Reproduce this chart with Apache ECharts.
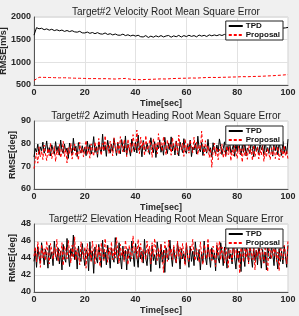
<!DOCTYPE html>
<html>
<head>
<meta charset="utf-8">
<script src="https://cdn.jsdelivr.net/npm/echarts@6/dist/echarts.min.js"></script>
<style>
  html, body { margin: 0; padding: 0; background: #f0f0f0; }
  #chart { width: 299px; height: 316px; }
</style>
</head>
<body>
<div id="chart"></div>
<script>
// velocity RMSE, one sample per second (TPD) / every 2 s (Proposal)
var velTPD = [
  1600,1765,1740,1752,1720,1738,1710,1730,1700,1718,
  1695,1712,1682,1702,1678,1698,1672,1665,1684,1650,
  1648,1668,1640,1658,1632,1655,1628,1622,1648,1615,
  1632,1605,1625,1600,1598,1622,1590,1608,1582,1600,
  1578,1598,1565,1560,1590,1548,1578,1555,1585,1562,
  1590,1560,1582,1592,1555,1584,1565,1595,1558,1590,
  1568,1598,1572,1590,1562,1602,1578,1596,1570,1606,
  1585,1604,1588,1610,1592,1616,1596,1615,1598,1620,
  1690,1700,1705,1710,1715,1712,1720,1725,1722,1730,
  1735,1730,1738,1740,1745,1742,1748,1750,1755,1760,
  1770
];
var velProp = [
  600,670,668,665,662,658,660,655,650,648,
  645,640,642,638,640,636,632,640,645,628,
  620,618,622,625,630,635,632,640,645,648,
  650,655,652,660,665,668,665,670,672,676,
  678,685,682,688,690,694,700,705,712,720,
  730
];
// azimuth / elevation RMSE, one sample every 0.5 s
var azTPD = [
  74.1,77.9,76.3,79.8,75.2,78.6,76.9,80.7,75.8,77.4,
  81.2,76.0,78.3,74.6,79.5,77.1,75.3,80.9,76.6,78.8,
  74.9,81.6,77.2,75.7,79.9,76.4,78.1,73.5,80.3,77.6,
  75.1,82.4,76.8,78.9,74.3,80.5,77.3,75.9,79.1,76.2,
  78.4,74.7,81.1,76.5,79.6,75.4,77.8,83.1,76.1,78.7,
  74.0,80.8,77.5,75.6,84.2,76.9,79.3,74.4,81.5,77.9,
  75.8,79.7,76.7,82.3,78.2,74.8,80.4,77.0,75.5,81.8,
  78.6,76.3,83.4,75.1,79.8,77.7,74.5,82.0,78.9,76.4,
  80.6,75.9,83.8,77.2,79.1,74.2,81.4,78.0,76.6,80.2,
  77.4,75.3,82.6,78.8,76.0,80.9,73.9,79.5,77.8,81.7,
  76.2,79.2,74.9,82.8,78.1,75.6,80.3,77.3,83.0,76.8,
  79.7,75.0,81.2,77.6,74.6,80.7,78.4,76.1,82.2,77.0,
  75.7,79.9,76.9,81.6,74.3,78.5,77.2,80.1,75.4,83.3,
  77.9,76.4,80.6,74.8,79.0,77.5,75.8,81.9,76.6,78.2,
  74.1,80.4,77.1,75.5,79.4,76.3,82.1,78.7,75.2,77.8,
  80.8,74.7,78.9,76.8,81.5,75.9,77.4,79.6,74.4,80.0,
  76.5,82.7,77.7,75.0,79.3,76.2,80.9,74.6,78.1,77.0,
  75.6,81.3,77.9,74.2,79.8,76.7,78.6,75.3,80.5,77.2,
  79.1,74.9,81.8,76.4,78.3,75.7,80.2,77.6,74.5,82.3,
  76.9,79.5,75.1,80.7,77.3,74.8,81.0,76.0,78.8,75.4,
  82.0
];
var azProp = [
  69.0,72.8,75.9,71.4,78.6,74.2,76.8,73.0,79.4,75.5,
  72.6,77.9,74.7,80.3,73.4,76.1,78.8,72.1,77.3,75.0,
  79.6,73.8,76.5,81.0,74.4,77.7,71.5,78.2,75.3,80.1,
  73.2,77.0,79.8,74.9,76.3,72.7,80.6,75.8,78.1,74.1,
  77.6,81.4,75.1,78.5,73.6,79.9,76.7,74.5,80.8,77.2,
  75.4,82.3,78.0,74.8,80.2,76.9,83.5,77.5,79.3,75.7,
  81.1,77.8,74.6,82.6,78.4,76.0,80.7,75.2,83.1,79.0,
  76.4,81.8,78.7,74.3,82.0,77.1,80.4,75.9,84.0,79.5,
  77.3,86.0,79.2,75.6,82.9,78.1,80.9,74.7,83.6,78.8,
  76.2,81.5,79.7,74.0,82.4,77.6,80.0,75.5,84.4,78.3,
  80.5,76.6,83.2,78.9,75.0,81.7,77.9,79.6,74.9,82.7,
  78.6,76.8,81.2,75.3,83.8,79.1,77.4,80.3,74.4,82.1,
  77.0,79.9,75.8,81.6,78.2,76.1,82.8,77.7,80.6,75.1,
  79.4,77.2,85.5,78.0,74.8,81.3,76.5,79.1,73.9,77.8,
  69.6,76.7,80.2,74.5,78.3,72.9,77.5,75.6,79.8,73.7,
  76.9,74.2,80.0,75.1,78.6,72.4,77.3,74.6,79.1,76.0,
  73.5,78.9,75.4,77.7,71.8,79.6,74.8,76.8,73.1,80.4,
  75.7,77.4,72.6,79.3,74.3,76.4,78.5,73.3,77.0,75.0,
  79.7,72.2,76.6,74.0,78.1,75.3,73.0,77.9,74.7,80.1,
  73.4,76.2,78.7,72.8,75.8,77.6,73.9,79.2,74.5,76.9,
  73.0
];
var elTPD = [
  43.6,44.9,42.9,45.3,44.1,43.4,45.8,44.6,43.2,45.0,
  44.3,42.8,45.5,43.9,44.7,43.1,46.0,44.4,43.7,45.2,
  43.3,44.8,42.6,45.6,44.0,43.5,46.3,44.5,43.0,45.1,
  44.2,46.7,43.8,44.9,42.7,45.4,44.1,43.6,45.7,44.3,
  43.1,45.0,44.6,42.5,45.9,43.7,44.8,42.2,45.3,44.0,
  43.4,45.6,44.2,42.9,46.1,43.9,44.7,43.2,45.5,44.4,
  42.8,45.2,44.0,43.5,46.4,44.6,43.3,45.8,44.1,42.7,
  45.4,43.8,44.9,42.6,45.1,44.3,43.6,46.0,44.5,43.0,
  45.7,44.2,42.9,45.3,43.9,44.8,43.4,46.2,44.0,43.1,
  45.0,44.6,42.4,45.5,43.7,44.4,43.2,45.9,44.7,42.8,
  45.6,43.5,44.9,42.3,45.2,44.1,43.8,46.1,44.3,43.0,
  45.3,44.0,43.4,45.8,44.6,42.7,45.1,43.9,44.5,43.3,
  45.7,44.2,42.9,45.4,43.6,44.8,43.1,45.9,44.4,43.7,
  45.0,42.6,44.7,43.5,46.0,44.1,43.2,45.6,44.3,42.9,
  45.2,43.8,44.6,42.5,45.5,44.0,43.4,45.8,44.7,43.1,
  45.3,44.2,42.8,45.7,43.9,44.5,43.3,46.2,44.0,42.7,
  45.1,43.6,44.8,42.4,45.6,44.3,43.0,45.4,44.6,43.5,
  45.9,44.1,42.9,45.2,43.7,44.9,43.2,45.5,44.4,42.8,
  45.0,43.4,44.7,42.6,45.8,44.2,43.9,45.3,44.5,43.1,
  45.6,44.0,42.7,45.1,43.6,44.8,43.3,45.4,44.2,42.9,
  45.5
];
var elProp = [
  44.2,45.3,43.5,45.9,44.8,42.9,45.6,44.0,45.1,43.7,
  46.0,44.5,43.3,45.7,44.9,43.8,45.2,44.1,46.2,43.6,
  45.0,44.3,45.8,43.1,45.4,44.7,43.9,46.1,44.6,43.4,
  45.5,44.0,46.5,43.7,45.1,44.4,43.2,45.9,44.8,43.9,
  45.3,42.8,45.7,44.2,45.0,43.6,46.0,44.5,43.3,45.6,
  44.1,45.4,43.0,45.8,44.6,43.7,46.3,44.9,43.5,45.2,
  44.3,45.9,43.8,45.1,44.0,46.4,44.7,43.4,45.6,44.2,
  45.0,43.6,46.1,44.8,43.2,45.5,44.4,43.9,46.6,44.6,
  45.3,43.9,46.2,44.1,45.7,43.5,45.0,44.7,43.8,46.0,
  44.5,45.4,43.3,45.8,44.2,46.3,44.9,43.7,45.2,44.0,
  45.6,44.4,42.3,45.9,44.8,43.6,46.1,44.3,45.1,43.8,
  45.5,44.6,43.4,46.0,44.2,45.3,43.9,45.7,44.5,43.1,
  45.8,44.0,43.6,45.4,44.9,46.2,44.3,43.7,45.1,44.6,
  43.5,45.9,44.4,43.2,45.6,44.8,43.9,46.3,44.1,45.0,
  43.7,45.4,44.5,43.0,45.8,44.2,46.0,43.8,45.3,44.6,
  43.4,45.7,44.1,42.9,46.5,44.7,43.6,45.2,44.3,45.9,
  43.9,44.8,42.2,45.5,44.4,43.5,46.1,44.0,45.0,43.3,
  45.6,44.6,43.8,45.3,42.6,44.9,44.2,45.8,43.7,45.1,
  44.5,43.4,45.7,44.1,42.4,45.2,44.8,43.9,46.0,44.3,
  45.4,43.6,44.7,42.5,45.9,44.2,43.8,45.5,44.6,43.3,
  46.1
];

var titles = [
  "Target#2 Velocity Root Mean Square Error",
  "Target#2 Azimuth Heading Root Mean Square Error",
  "Target#2 Elevation Heading Root Mean Square Error"
];
var yNames = ["RMSE[m/s]", "RMSE[deg]", "RMSE[deg]"];
var yRanges = [[500, 2000, 500], [60, 90, 10], [40, 48, 2]];

var gridTops = [17, 121, 224];
var gridH = 68;
var FONT = "Liberation Sans, Arial, sans-serif";

// pair each value with its time stamp
function withTime(arr, step) {
  return arr.map(function (v, i) { return [i * step, v]; });
}

var chart = echarts.init(document.getElementById("chart"));

var option = {
  backgroundColor: "#f0f0f0",
  animation: false,
  title: [],
  legend: [],
  grid: [],
  xAxis: [],
  yAxis: [],
  series: []
};

gridTops.forEach(function (top, k) {
  option.title.push({
    text: titles[k],
    left: 161,
    textAlign: "center",
    top: top - 15,
    textStyle: { fontFamily: FONT, fontSize: 10, fontWeight: "normal", color: "#222" }
  });
  option.grid.push({
    left: 34, right: 11, top: top, height: gridH,
    outerBoundsMode: "none", containLabel: false,
    show: true, backgroundColor: "#fff", borderColor: "#d0d0d0", borderWidth: 1
  });
  option.xAxis.push({
    type: "value", gridIndex: k, min: 0, max: 100, interval: 20,
    name: "Time[sec]", nameLocation: "middle", nameGap: 14,
    nameTextStyle: { fontFamily: FONT, fontSize: 9, fontWeight: "bold", color: "#262626" },
    axisLine: { lineStyle: { color: "#555" } },
    axisTick: { show: false },
    axisLabel: { fontFamily: FONT, fontSize: 9, fontWeight: "bold", color: "#262626", margin: 3 },
    splitLine: { lineStyle: { color: "#e2e2e2" } }
  });
  option.yAxis.push({
    type: "value", gridIndex: k,
    min: yRanges[k][0], max: yRanges[k][1], interval: yRanges[k][2],
    name: yNames[k], nameLocation: "middle", nameGap: k === 0 ? 26 : 17,
    nameMoveOverlap: false,
    nameTextStyle: { fontFamily: FONT, fontSize: 9, fontWeight: "bold", color: "#262626" },
    axisLine: { show: true, lineStyle: { color: "#555" } },
    axisTick: { show: false },
    axisLabel: {
      fontFamily: FONT, fontSize: 9, fontWeight: "bold", color: "#262626", margin: 3,
      formatter: function (v) { return String(v); }
    },
    splitLine: { lineStyle: { color: "#e2e2e2" } }
  });
  option.legend.push({
    orient: "vertical",
    right: 16, top: top + (k === 0 ? 4 : 5),
    backgroundColor: "#fff",
    borderColor: "#222", borderWidth: 1,
    padding: [1, 3, 1, 2],
    itemGap: 1, itemWidth: 14, itemHeight: 8,
    itemStyle: { opacity: 0 },
    textStyle: { fontFamily: FONT, fontSize: 8, fontWeight: "bold", color: "#111", padding: [0, 0, 0, -2] },
    data: ["TPD", "Proposal"]
  });
});

var tpdSets = [withTime(velTPD, 1), withTime(azTPD, 0.5), withTime(elTPD, 0.5)];
var propSets = [withTime(velProp, 2), withTime(azProp, 0.5), withTime(elProp, 0.5)];

for (var k = 0; k < 3; k++) {
  option.series.push({
    name: "TPD", type: "line", xAxisIndex: k, yAxisIndex: k,
    data: tpdSets[k], showSymbol: false, symbol: "none",
    lineStyle: { color: "#000", width: 1 }, itemStyle: { color: "#000" }
  });
  option.series.push({
    name: "Proposal", type: "line", xAxisIndex: k, yAxisIndex: k,
    data: propSets[k], showSymbol: false, symbol: "none",
    lineStyle: { color: "#ff0000", width: 1, type: [3, 2] }, itemStyle: { color: "#ff0000" }
  });
}

chart.setOption(option);
</script>
</body>
</html>
